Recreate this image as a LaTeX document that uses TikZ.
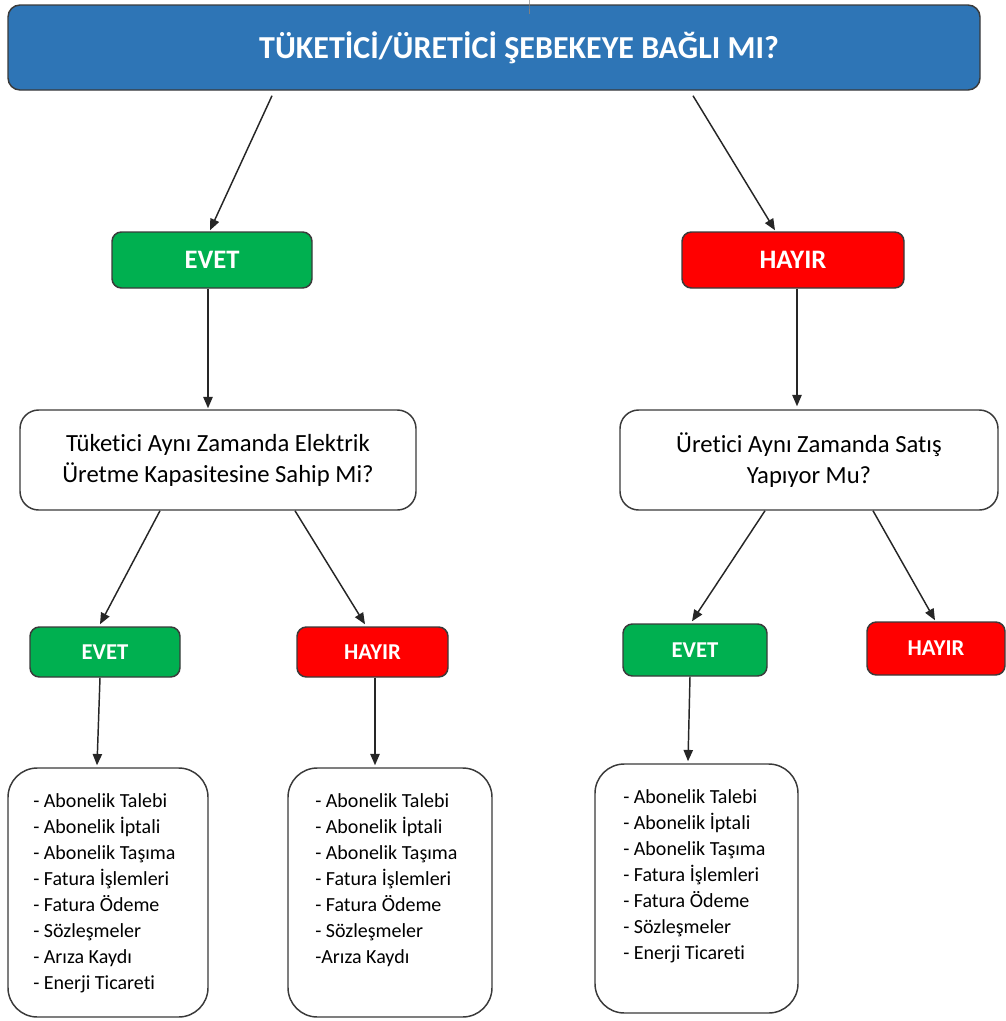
\documentclass[tikz,border=0pt]{standalone}
\usepackage{fontspec}
\setmainfont{Carlito}[Ligatures=NoCommon]
\usetikzlibrary{arrows.meta,calc}

\definecolor{titleblue}{HTML}{2E75B6}
\definecolor{yesgreen}{HTML}{00B050}
\definecolor{nored}{HTML}{FF0000}
\definecolor{boxline}{HTML}{3A3A3A}
\definecolor{arrowline}{HTML}{262626}

\begin{document}
\begin{tikzpicture}[x=0.75pt,y=-0.75pt,
  base/.style={draw=boxline,line width=1.1pt,inner sep=0pt,align=center},
  titlebox/.style={base,fill=titleblue,rounded corners=9pt,text=white,
    font=\bfseries\fontsize{24}{28}\selectfont},
  yesbig/.style={base,fill=yesgreen,rounded corners=7pt,text=white,
    font=\bfseries\fontsize{20}{24}\selectfont},
  nobig/.style={base,fill=nored,rounded corners=7pt,text=white,
    font=\bfseries\fontsize{20}{24}\selectfont},
  yessmall/.style={base,fill=yesgreen,rounded corners=7pt,text=white,
    font=\bfseries\fontsize{17}{20}\selectfont},
  nosmall/.style={base,fill=nored,rounded corners=7pt,text=white,
    font=\bfseries\fontsize{17}{20}\selectfont},
  question/.style={base,fill=white,rounded corners=14pt,
    font=\fontsize{18.5}{23.25}\selectfont},
  listbox/.style={base,fill=white,rounded corners=22pt},
  listtext/.style={inner sep=0pt,align=left,anchor=north west,
    font=\fontsize{15}{19.5}\selectfont},
  flow/.style={draw=arrowline,line width=1.1pt,-{Triangle[length=8.5pt,width=7pt]}}
]
\useasboundingbox (0,0) rectangle (1006,1021);

% top question
\node[titlebox,minimum width=729pt,minimum height=63.75pt] (title) at (494,47.5)
  {\hspace*{37.5pt}TÜKETİCİ/ÜRETİCİ ŞEBEKEYE BAĞLI MI?};
\coordinate (stub) at (529,0);
\draw[draw=gray,line width=0.6pt] (stub) -- (stub |- title.north) -- ++(0,10);

% first answers
\node[yesbig,minimum width=150pt,minimum height=42pt] (e1) at (212,260) {EVET};
\node[nobig,minimum width=166.5pt,minimum height=42pt] (h1) at (793,260) {HAYIR};

% second questions
\node[question,minimum width=297pt,minimum height=75pt] (q1) at (218,460)
  {Tüketici Aynı Zamanda Elektrik\\Üretme Kapasitesine Sahip Mi?};
\node[question,minimum width=283.5pt,minimum height=75pt] (q2) at (809,460)
  {Üretici Aynı Zamanda Satış\\Yapıyor Mu?};

% second answers
\node[yessmall,minimum width=112.5pt,minimum height=37.5pt] (e3a) at (105,652) {EVET};
\node[nosmall,minimum width=113.25pt,minimum height=37.5pt] (h3a) at (372.5,652) {HAYIR};
\node[yessmall,minimum width=108pt,minimum height=39pt] (e3b) at (695,650) {EVET};
\node[nosmall,minimum width=103.5pt,minimum height=39.75pt] (h3b) at (936,648.5) {HAYIR};

% service lists
\node[listbox,minimum width=150pt,minimum height=186.75pt] (l1) at (108,892.5) {};
\node[listbox,minimum width=153pt,minimum height=186.75pt] (l2) at (390,892.5) {};
\node[listbox,minimum width=152.25pt,minimum height=186.75pt] (l3) at (696.5,888.5) {};

\node[listtext] (l1t) at (33,793) {- Abonelik Talebi\\- Abonelik İptali\\- Abonelik Taşıma\\- Fatura İşlemleri\\- Fatura Ödeme\\- Sözleşmeler\\- Arıza Kaydı\\- Enerji Ticareti};
\node[listtext] (l2t) at (315,793) {- Abonelik Talebi\\- Abonelik İptali\\- Abonelik Taşıma\\- Fatura İşlemleri\\- Fatura Ödeme\\- Sözleşmeler\\-Arıza Kaydı};
\node[listtext] (l3t) at (623,789) {- Abonelik Talebi\\- Abonelik İptali\\- Abonelik Taşıma\\- Fatura İşlemleri\\- Fatura Ödeme\\- Sözleşmeler\\- Enerji Ticareti};

% connectors
\draw[flow] ($(title.south)+(-222,5)$) -- ($(e1.north)+(-2,-1)$);
\draw[flow] ($(title.south)+(199,5)$) -- ($(h1.north)+(-18,-1)$);
\draw[flow] ($(e1.south)+(-4,0)$) -- ($(q1.north)+(-10,-1)$);
\draw[flow] ($(h1.south)+(4,0)$) -- ($(q2.north)+(-12,-3)$);
\draw[flow] ($(q1.south)+(-58,0)$) -- ($(e3a.north)+(-5,-2)$);
\draw[flow] ($(q1.south)+(77,0)$) -- ($(h3a.north)+(-7.5,-2)$);
\draw[flow] ($(q2.south)+(-44,0)$) -- ($(e3b.north)+(-3,-2)$);
\draw[flow] ($(q2.south)+(64,0)$) -- ($(h3b.north)+(-1,-1)$);
\draw[flow] ($(e3a.south)+(-5,0)$) -- ($(l1.north)+(-11,-2)$);
\draw[flow] ($(h3a.south)+(2.5,0)$) -- ($(l2.north)+(-15,-2)$);
\draw[flow] ($(e3b.south)+(-5,0)$) -- ($(l3.north)+(-8.5,-2)$);
\end{tikzpicture}
\end{document}
